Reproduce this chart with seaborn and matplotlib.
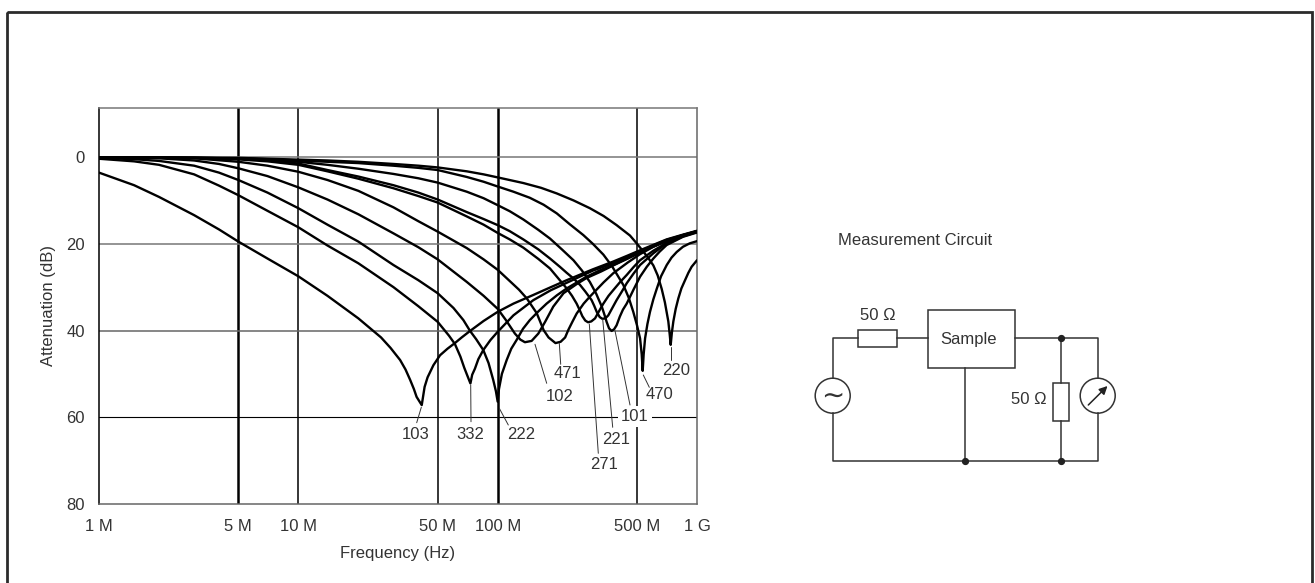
import pandas as pd
import matplotlib.pyplot as plt
from matplotlib.patches import Rectangle, Circle
import seaborn as sns

# frequency in MHz, attenuation in dB
f_103 = [1, 1.5, 2, 3, 4, 5, 7, 10, 14, 20, 26, 29, 32.4, 34.5, 36.4, 38, 39.2, 41.6, 43, 44.5, 47.6, 51.4, 56, 61, 66, 72.7, 85, 100, 120, 151, 185, 222, 300, 380, 450, 518, 600, 704, 850, 1000]
db_103 = [3.6, 6.5, 9.2, 13.4, 16.7, 19.5, 23.4, 27.5, 32, 37.2, 41.6, 44, 46.8, 49, 51.4, 53.5, 55.3, 57.2, 53, 50.8, 48, 45.7, 44.2, 42.9, 41.6, 40.1, 37.8, 35.7, 33.8, 31.8, 30, 28.4, 25.9, 24.1, 22.7, 21.5, 20.3, 19, 17.9, 17]
f_332 = [1, 1.5, 2, 3, 4, 5, 7, 10, 14, 20, 30, 40, 50, 57, 61, 65, 68, 71, 73, 74.5, 76.9, 80, 84.7, 92, 100, 120, 151, 185, 222, 300, 380, 518, 704, 850, 1000]
db_332 = [0.4, 1, 1.8, 4, 6.6, 8.8, 12.4, 16.2, 20.4, 24.5, 30, 34.4, 38, 41.2, 43.1, 46, 48.6, 50.8, 52.2, 50.2, 48.8, 46.6, 44.5, 42.2, 40.3, 36.5, 33, 30.7, 29, 26.2, 24.5, 21.7, 19.1, 18, 17.1]
f_222 = [1, 1.5, 2, 3, 4, 5, 7, 10, 14, 20, 30, 40, 50, 60, 67.3, 72.7, 78, 84.7, 90, 95, 98, 100, 101.5, 105, 111, 117, 124.4, 134, 145, 160, 176, 198, 222, 279, 330, 380, 518, 704, 850, 1000]
db_222 = [0.2, 0.5, 0.9, 2, 3.6, 5.3, 8.2, 11.8, 15.6, 19.5, 24.9, 28.4, 31.4, 34.8, 37.6, 40.1, 42, 44.5, 47.5, 51.4, 54, 56.4, 53.5, 50, 46.8, 44.2, 42.2, 39.6, 37.6, 35.6, 33.8, 31.9, 30.3, 27.6, 26, 24.9, 22, 19.3, 18.1, 17.1]
f_102 = [1, 2, 3, 4, 5, 7, 10, 14, 20, 30, 40, 50, 70, 85, 100, 110, 122, 130, 137, 148, 160, 173, 190, 214, 249, 279, 330, 380, 450, 518, 604, 704, 850, 1000]
db_102 = [0.1, 0.3, 0.8, 1.6, 2.6, 4.4, 7, 9.8, 13.2, 17.6, 20.8, 23.6, 28.8, 32, 35, 37.6, 40.7, 42.1, 42.7, 42.4, 40.7, 38, 34.5, 31.4, 29.3, 27.9, 26.4, 25, 23.4, 22, 20.6, 19.3, 18, 17.1]
f_471 = [1, 3, 5, 7, 10, 14, 20, 30, 40, 50, 70, 85, 100, 115, 128, 140, 157, 170, 180, 195, 207, 218, 226, 237, 249, 270, 290, 340, 380, 450, 518, 604, 704, 850, 1000]
db_471 = [0.05, 0.3, 1.1, 2, 3.4, 5.3, 7.8, 11.6, 14.8, 17.2, 21, 23.6, 26, 28.6, 30.6, 32.6, 36, 39.9, 41.6, 42.9, 42.6, 41.6, 39.9, 38, 36.1, 33.8, 32.2, 28.9, 26.8, 24.3, 22.4, 20.7, 19.4, 18.1, 17.2]
f_271 = [1, 3, 5, 7, 10, 14, 20, 30, 40, 50, 70, 85, 100, 115, 134.5, 160, 183, 205, 222, 236, 249, 258, 266, 275, 284, 295, 308, 322, 339, 360, 380, 410, 444, 480, 518, 604, 704, 850, 1000]
db_271 = [0.05, 0.2, 0.55, 1, 1.8, 3.3, 5, 7.2, 9, 10.5, 13.7, 15.6, 17.5, 19, 20.9, 23.5, 25.7, 28.4, 30.3, 32, 33.8, 35.3, 36.7, 37.7, 38.1, 37.9, 37.2, 35.6, 33.8, 32, 30.7, 28.9, 27.2, 25.4, 23.8, 21.6, 19.8, 18.2, 17.2]
f_221 = [1, 3, 5, 7, 10, 14, 20, 30, 40, 50, 70, 85, 100, 115, 134.5, 160, 183, 205, 222, 240, 259, 275, 296, 305, 314, 325, 335, 347, 359, 375, 395, 420, 444, 480, 518, 604, 704, 850, 1000]
db_221 = [0.05, 0.15, 0.4, 0.8, 1.5, 3, 4.5, 6.5, 8.2, 9.8, 12.7, 14.3, 15.7, 17.1, 19, 21.3, 23.4, 25.3, 26.7, 28, 29.5, 31, 33, 34.3, 35.7, 36.9, 37.3, 37.2, 36.5, 34.9, 33, 31, 29.1, 26.9, 24.9, 22.2, 19.9, 18.3, 17.3]
f_101 = [1, 5, 7, 10, 14, 20, 30, 40, 50, 70, 85, 100, 115, 134.5, 160, 183, 210, 240, 265, 290, 312, 333, 343, 352, 362, 373, 384, 395, 410, 425, 444, 480, 518, 560, 604, 650, 704, 850, 1000]
db_101 = [0.05, 0.3, 0.6, 1.1, 1.8, 2.7, 3.9, 4.9, 5.9, 8, 9.5, 11.1, 12.5, 14.4, 16.8, 18.8, 21.3, 23.8, 26.2, 28.8, 31.5, 34.5, 36.3, 38, 39.5, 40.1, 39.7, 38.8, 36.8, 35.2, 33.8, 30.6, 27.6, 25.3, 23.4, 21.8, 20.3, 18.4, 17.4]
f_470 = [1, 5, 7, 10, 14, 20, 30, 40, 50, 70, 85, 100, 120, 145, 170, 198, 230, 269, 300, 339, 375, 427, 455, 479, 500, 518, 528, 534, 540, 549, 564, 581, 604, 628, 660, 705, 745, 791, 850, 920, 1000]
db_470 = [0.05, 0.3, 0.5, 0.8, 1.1, 1.4, 2, 2.5, 3, 4.6, 5.7, 6.8, 8, 9.4, 11, 13, 15.5, 18, 20, 22.5, 25.2, 29.5, 32.5, 35.7, 38.8, 41.8, 45.5, 49.3, 45.5, 41.8, 38.5, 35.7, 32.8, 30.4, 27.5, 24.9, 23.2, 21.9, 20.7, 19.9, 19.4]
f_220 = [1, 5, 7, 10, 14, 20, 30, 40, 50, 70, 85, 100, 134.5, 165, 198, 240, 290, 340, 395, 461, 498, 538, 570, 604, 635, 665, 690, 718, 730, 738, 748, 761, 782, 806, 835, 871, 905, 940, 1000]
db_220 = [0.05, 0.2, 0.4, 0.6, 0.8, 1.1, 1.6, 2, 2.4, 3.3, 4, 4.7, 6, 7.1, 8.4, 10, 11.8, 13.6, 15.7, 18.1, 19.9, 21.8, 23.3, 25, 27.3, 30.4, 33.5, 37.9, 41, 43.3, 40.5, 37.9, 35, 32.6, 30.3, 28.4, 26.7, 25.3, 23.8]

parts = ["103", "332", "222", "102", "471", "271", "221", "101", "470", "220"]
freqs = [f_103, f_332, f_222, f_102, f_471, f_271, f_221, f_101, f_470, f_220]
attens = [db_103, db_332, db_222, db_102, db_471, db_271, db_221, db_101, db_470, db_220]

x_ticks = [1, 5, 10, 50, 100, 500, 1000]
x_labels = ["1 M", "5 M", "10 M", "50 M", "100 M", "500 M", "1 G"]
y_ticks = [0, 20, 40, 60, 80]

# part label, leader start, leader end, text centre (figure pixels)
callouts = [
    ("103", (421.3, 407.3), (416.7, 422.7), (415.7, 434.3)),
    ("332", (470.7, 385), (471, 421.7), (470.7, 434.3)),
    ("222", (499.3, 408.3), (508.3, 425), (521, 434.3)),
    ("102", (535, 344.3), (546.7, 383.3), (559.3, 396.7)),
    ("471", (559.3, 343.3), (560.7, 364.3), (567.7, 373.3)),
    ("271", (589.3, 324), (598.3, 453.3), (604, 464.3)),
    ("221", (602.7, 319.3), (612.7, 427.3), (616, 439.3)),
    ("101", (615, 330.7), (630, 405), (635, 416.7)),
    ("470", (643.3, 375), (649.3, 387.3), (659.3, 394.3)),
    ("220", (670.7, 346.7), (670.7, 360), (676, 370.7)),
]

sns.set_theme(style="white")
plt.rcParams["font.family"] = ["Liberation Sans", "DejaVu Sans"]
TEXT = "#333333"
FS = 12

fig = plt.figure(figsize=(13.15, 5.83), dpi=100, facecolor="white")
ax = fig.add_axes([99 / 1315, 1 - 504 / 583, 598 / 1315, 396 / 583])

rows = []
for part, f, d in zip(parts, freqs, attens):
    rows.append(pd.DataFrame({"part": part, "freq": f, "atten": d}))
df = pd.concat(rows)

ax.set_xscale("log")
sns.lineplot(data=df, x="freq", y="atten", units="part", estimator=None, sort=False,
             color="black", linewidth=1.7, ax=ax, zorder=3)
ax.set_xlim(1, 1000)
ax.set_ylim(80, -11.3)

ax.minorticks_off()
ax.set_xticks(x_ticks)
ax.set_xticklabels(x_labels, fontsize=FS, color=TEXT)
ax.set_yticks(y_ticks)
ax.set_yticklabels([str(v) for v in y_ticks], fontsize=FS, color=TEXT)
ax.tick_params(axis="x", length=0, pad=10.5)
ax.tick_params(axis="y", length=0, pad=10)
ax.set_xlabel("Frequency (Hz)", fontsize=FS, color=TEXT, labelpad=9)
ax.set_ylabel("Attenuation (dB)", fontsize=FS, color=TEXT, labelpad=7.5)

# grid by hand, some rules are heavier in the original
for v in x_ticks[1:-1]:
    heavy = v in (5, 100)
    ax.axvline(v, color="black", lw=1.8 if heavy else 1.1, zorder=1)
for v, col in zip(y_ticks[:3], ["#777777", "#777777", "#666666"]):
    ax.axhline(v, color=col, lw=1.1, zorder=1)
ax.axhline(60, color="black", lw=0.8, zorder=1)
for side, col in zip(["left", "right", "top", "bottom"], ["black", "#666666", "#777777", "#666666"]):
    ax.spines[side].set_visible(True)
    ax.spines[side].set_color(col)
    ax.spines[side].set_linewidth(1.1)

# overlay in pixel coordinates for frame, callouts and circuit
ov = fig.add_axes([0, 0, 1, 1], facecolor="none")
ov.set_xlim(0, 1315)
ov.set_ylim(583, 0)
ov.axis("off")

ov.add_patch(Rectangle((7, 12), 1305, 590, fill=False, ec="#2b2b2b", lw=2.0))

for label, a, b, c in callouts:
    ov.plot([a[0], b[0]], [a[1], b[1]], color="#333333", lw=0.7)
    bbox = dict(fc="white", ec="none", pad=2) if label == "101" else None
    ov.text(c[0], c[1], label, ha="center", va="center", fontsize=FS, color=TEXT, bbox=bbox)

wire = dict(color="#333333", lw=1.1, solid_capstyle="projecting", zorder=2)
ov.plot([832.7, 832.7, 857.7], [378, 337.7, 337.7], **wire)
ov.plot([896.7, 927.7], [337.7, 337.7], **wire)
ov.plot([1015, 1097.7, 1097.7], [337.7, 337.7, 378], **wire)
ov.plot([832.7, 832.7, 1097.7, 1097.7], [413, 461, 461, 413], **wire)
ov.plot([965, 965], [368.3, 461], **wire)
ov.plot([1061, 1061], [337.7, 382.7], **wire)
ov.plot([1061, 1061], [420.7, 461], **wire)

box = dict(fill=False, ec="#333333", lw=1.1)
ov.add_patch(Rectangle((857.7, 330), 39, 16.7, **box))
ov.add_patch(Rectangle((927.7, 310), 87.3, 58.3, **box))
ov.add_patch(Rectangle((1052.7, 382.7), 16.6, 38, **box))
ov.add_patch(Circle((832.7, 395.7), 17.5, **box))
ov.add_patch(Circle((1097.7, 395.7), 17.5, **box))
ov.plot([965, 1061], [461, 461], "o", color="#222222", ms=4.2, zorder=3)
ov.plot([1061], [337.7], "o", color="#222222", ms=4.2, zorder=3)
ov.annotate("", xy=(1107.5, 386), xytext=(1088.3, 405),
            arrowprops=dict(arrowstyle="-|>", color="#222222", lw=1.1, mutation_scale=12, shrinkA=0, shrinkB=0))

ov.text(832.7, 395.7, "∼", ha="center", va="center", fontsize=20, color=TEXT, family="DejaVu Sans")
ov.text(837.7, 240.5, "Measurement Circuit", ha="left", va="center", fontsize=FS, color=TEXT)
ov.text(968.3, 339.3, "Sample", ha="center", va="center", fontsize=FS, color=TEXT)
ov.text(878.3, 316, "50 Ω", ha="center", va="center", fontsize=FS, color=TEXT)
ov.text(1029.3, 400, "50 Ω", ha="center", va="center", fontsize=FS, color=TEXT)

fig.savefig("out.png", dpi=100)
